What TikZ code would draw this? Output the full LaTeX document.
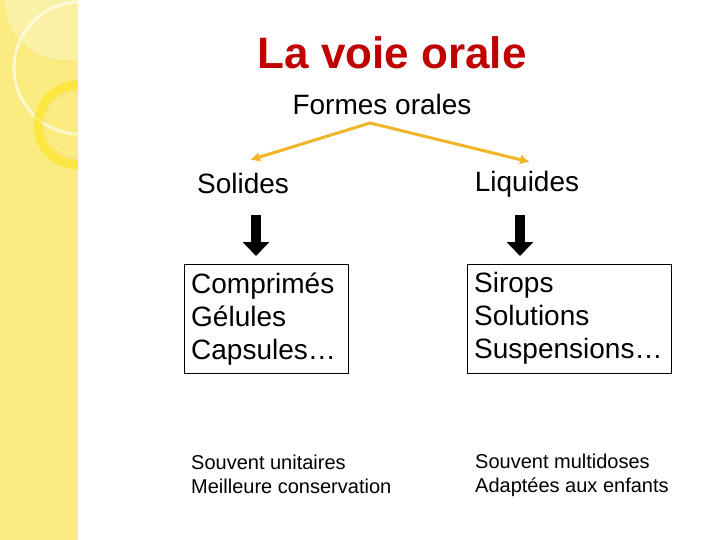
\documentclass[tikz,border=0pt]{standalone}
\usepackage{fontspec}
\setmainfont{Liberation Sans}
\usetikzlibrary{arrows.meta, positioning, patterns}
\definecolor{strip}{HTML}{FAEC80}
\definecolor{titlered}{HTML}{C00000}
\definecolor{branch}{HTML}{F2B428}

\begin{document}
\begin{tikzpicture}[%
    x=1pt, y=-1pt,
    >=latex,
    every node/.style={%
      font=\fontsize{28}{33}\selectfont,
      inner sep=0pt
    },
    formbox/.style={draw=black, thin, align=left, inner xsep=7pt, inner ysep=8pt,
      anchor=north west, minimum height=109pt},
    note/.style={font=\fontsize{20}{24}\selectfont, align=left, anchor=west},
    branch/.style={draw=branch, line width=3pt, -{Latex[length=10pt,width=10pt]}},
    down/.style={draw=black, line width=10pt, -{Triangle[length=14pt,width=26pt]}}
  ]
  \useasboundingbox (0,0) rectangle (720,540);

  % Left strip
  \fill[strip] (0,0) rectangle (78,540);
  \begin{scope}
    \clip (0,0) rectangle (78,540);
    \fill[white, opacity=0.3] (65,0) circle (60);
    \draw[white, opacity=0.6, line width=3pt] (80,68) circle (66);
    \draw[yellow!85!orange, line width=9pt, opacity=0.5] (78,125) circle (40);
    \draw[orange!60, thin, opacity=0.5] (78,125) circle (34);
  \end{scope}

  % Titles
  \node[text=titlered, font=\fontsize{44}{50}\bfseries] (title) at (392,53) {La voie orale};
  \node (forms) at (382,104) {Formes orales};
  \coordinate (top) at (370,123);

  \node (solid) at (243,183) {Solides};
  \node (liquid) at (527,184) {Liquides};
  \coordinate (lend) at (250,160);
  \coordinate (rend) at (530,162);
  \draw[branch] (top) -- (lend);
  \draw[branch] (top) -- (rend);

  % Down arrows
  \coordinate (la) at (256,215);
  \coordinate (lb) at (256,256);
  \coordinate (ra) at (520,215);
  \coordinate (rb) at (520,256);
  \draw[down] (la) -- (lb);
  \draw[down] (ra) -- (rb);

  % Boxes
  \node[formbox, text width=150pt] (solbox) at (184,264)
    {Comprimés\\Gélules\\Capsules…};
  \node[formbox, text width=190pt] (liqbox) at (467,264)
    {Sirops\\Solutions\\Suspensions…};

  % Notes
  \node[note] (solnote) at (191,474) {Souvent unitaires\\Meilleure conservation};
  \node[note] (liqnote) at (475,475) {Souvent multidoses\\Adaptées aux enfants};
\end{tikzpicture}
\end{document}
